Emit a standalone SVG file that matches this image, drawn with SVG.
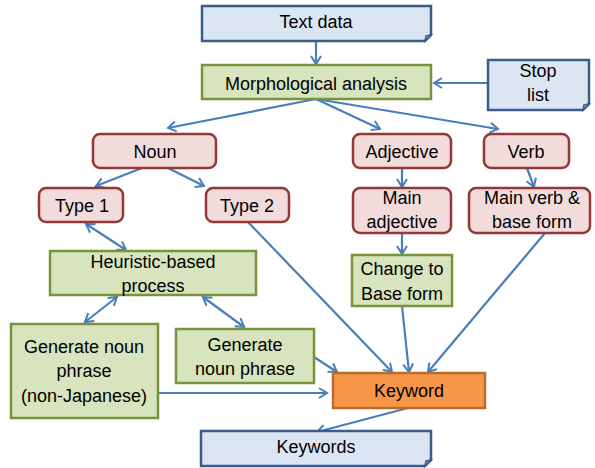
<svg xmlns="http://www.w3.org/2000/svg" width="595" height="468" viewBox="0 0 595 468">
<style>
text{font-family:"Liberation Sans",Arial,sans-serif;font-size:18px;fill:#000;text-anchor:middle}
.blue{fill:#dce6f2;stroke:#385d8a;stroke-width:2.5}
.fold{fill:#b0c0d8;stroke:#385d8a;stroke-width:1.5}
.green{fill:#d7e4bd;stroke:#77933c;stroke-width:2.5}
.red{fill:#f2dcdb;stroke:#953735;stroke-width:2.5}
.orange{fill:#f79646;stroke:#b66d31;stroke-width:2.5}
.c{fill:none;stroke:#4a7ebb;stroke-width:2.2;marker-end:url(#ah)}
.d{marker-start:url(#ah)}
</style>
<defs>
<marker id="ah" viewBox="0 0 12 12" refX="10" refY="6" markerWidth="12" markerHeight="12" markerUnits="userSpaceOnUse" orient="auto-start-reverse">
<path d="M2,1 L10,6 L2,11" fill="none" stroke="#4a7ebb" stroke-width="2"/>
</marker>
</defs>
<g id="connectors">
<path class="c" d="M316,41 L316,64"/>
<path class="c" d="M488,83 L434,83"/>
<path class="c" d="M316,99 L168,128"/>
<path class="c" d="M316,99 L380,129"/>
<path class="c" d="M316,99 L498,129"/>
<path class="c" d="M142,168 L96,186"/>
<path class="c" d="M168,168 L204,186"/>
<path class="c" d="M402,168 L402,187"/>
<path class="c" d="M527,168 L534,187"/>
<path class="c" d="M402,222 L402,254"/>
<path class="c d" d="M86,224 L126,250"/>
<path class="c d" d="M117,297 L85,322"/>
<path class="c d" d="M203,297 L244,327"/>
<path class="c" d="M248,222 L392,372"/>
<path class="c" d="M402,306 L409,372"/>
<path class="c" d="M545,233 L428,372"/>
<path class="c" d="M314,357 L337,372"/>
<path class="c" d="M158,393 L327,393"/>
<path class="c" d="M408,408 L317,432"/>
</g>
<g id="text-data">
<path class="blue" d="M202,6 H431 V35 L425,41 H202 Z"/>
<path class="fold" d="M431,35 L425,41 L426,36 Z"/>
<text x="316" y="28">Text data</text>
</g>
<g id="morph">
<rect class="green" x="202" y="65" width="229" height="34"/>
<text x="316" y="90">Morphological analysis</text>
</g>
<g id="stop-list">
<path class="blue" d="M488,60 H589 V104 L583,110 H488 Z"/>
<path class="fold" d="M589,104 L583,110 L584,105 Z"/>
<text x="538" y="77">Stop</text>
<text x="538" y="101">list</text>
</g>
<g id="noun">
<rect class="red" x="93" y="134" width="123" height="34" rx="7"/>
<text x="155" y="158">Noun</text>
</g>
<g id="adjective">
<rect class="red" x="353" y="134" width="98" height="34" rx="7"/>
<text x="402" y="158">Adjective</text>
</g>
<g id="verb">
<rect class="red" x="484" y="134" width="85" height="34" rx="7"/>
<text x="526" y="158">Verb</text>
</g>
<g id="type1">
<rect class="red" x="39" y="188" width="84" height="34" rx="7"/>
<text x="82" y="212">Type 1</text>
</g>
<g id="type2">
<rect class="red" x="206" y="188" width="83" height="34" rx="7"/>
<text x="247" y="212">Type 2</text>
</g>
<g id="main-adjective">
<rect class="red" x="353" y="188" width="98" height="45" rx="7"/>
<text x="402" y="204">Main</text>
<text x="402" y="228">adjective</text>
</g>
<g id="main-verb">
<rect class="red" x="469" y="188" width="121" height="45" rx="7"/>
<text x="532" y="204">Main verb &amp;</text>
<text x="532" y="228">base form</text>
</g>
<g id="heuristic">
<rect class="green" x="50" y="251" width="206" height="44"/>
<text x="153" y="268">Heuristic-based</text>
<text x="153" y="292">process</text>
</g>
<g id="change-base">
<rect class="green" x="352" y="255" width="100" height="51"/>
<text x="402" y="275">Change to</text>
<text x="402" y="300">Base form</text>
</g>
<g id="gen-non-japanese">
<rect class="green" x="11" y="324" width="147" height="94"/>
<text x="84" y="353">Generate noun</text>
<text x="84" y="377">phrase</text>
<text x="84" y="402">(non-Japanese)</text>
</g>
<g id="gen-noun-phrase">
<rect class="green" x="176" y="329" width="138" height="54"/>
<text x="245" y="351">Generate</text>
<text x="245" y="375">noun phrase</text>
</g>
<g id="keyword">
<rect class="orange" x="333" y="373" width="152" height="35"/>
<text x="409" y="397">Keyword</text>
</g>
<g id="keywords">
<path class="blue" d="M201,431 H431 V460 L425,466 H201 Z"/>
<path class="fold" d="M431,460 L425,466 L426,461 Z"/>
<text x="316" y="453">Keywords</text>
</g>
</svg>
